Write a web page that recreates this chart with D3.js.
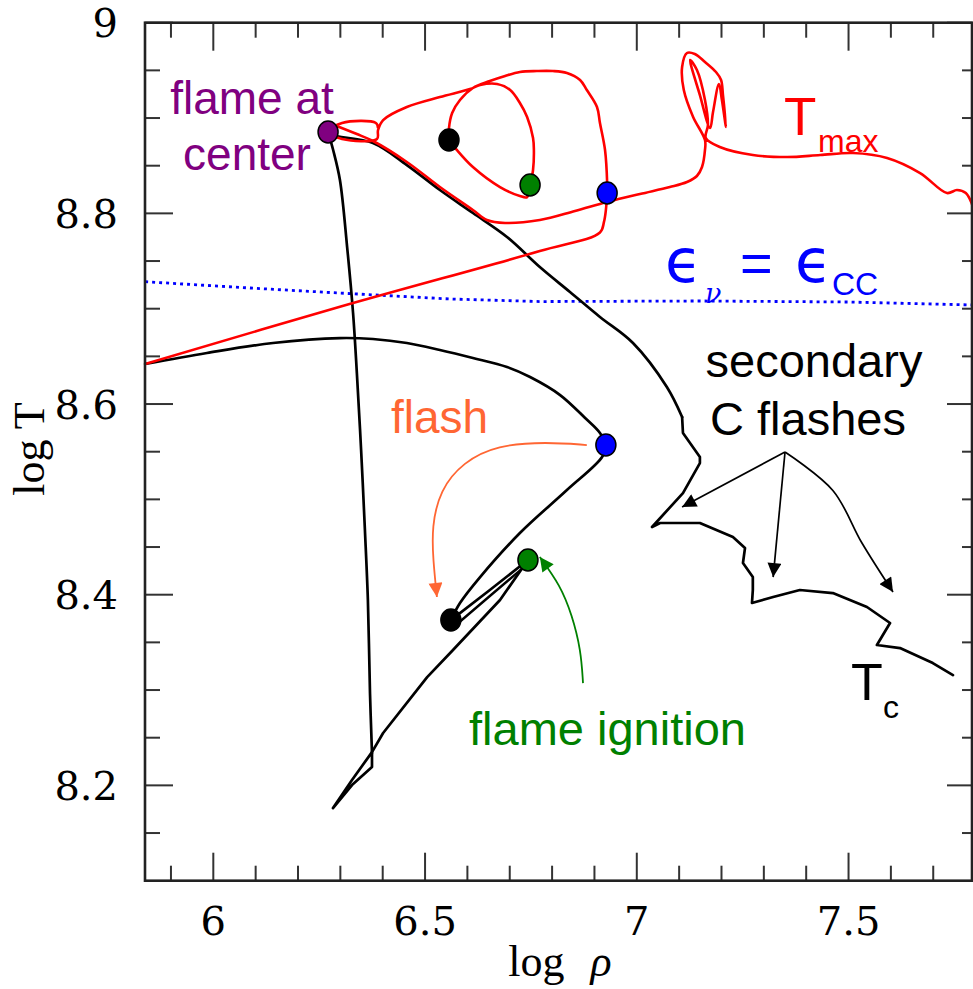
<!DOCTYPE html>
<html><head><meta charset="utf-8">
<script src="https://cdn.jsdelivr.net/npm/d3@7"></script>
<style>body{margin:0;background:#fff}</style>
</head><body>
<svg id="chart" width="973" height="989"></svg>
<script>
// ---------------- DATA (log rho, log T) ----------------
const xMajorTicks = [6, 6.5, 7, 7.5];
const xTickLabels = ["6", "6.5", "7", "7.5"];
const xMinorTicks = [5.9, 6.1, 6.2, 6.3, 6.4, 6.6, 6.7, 6.8, 6.9, 7.1, 7.2, 7.3, 7.4, 7.6, 7.7];
const yMajorTicks = [8.2, 8.4, 8.6, 8.8, 9.0];
const yTickLabels = ["8.2", "8.4", "8.6", "8.8", "9"];
const yMinorTicks = [8.15, 8.25, 8.3, 8.35, 8.45, 8.5, 8.55, 8.65, 8.7, 8.75, 8.85, 8.9, 8.95];

// epsilon_nu = epsilon_CC line
const epsLine = [[5.839,8.7283],[6.087,8.7217],[6.299,8.7164],[6.559,8.7102],[6.771,8.7075],[7.149,8.7081],[7.503,8.7070],[7.794,8.7039]];

// T_max track, part A: pre-flash rise, flash loops, to flame at center
const tmaxA = [[5.839,8.642],[6.299,8.702],[6.771,8.7605],[6.913,8.780],[6.9225,8.791],[6.927,8.8035],[6.930,8.821],
  [6.930,8.8318],[6.925,8.8665],[6.913,8.8948],[6.906,8.9116],[6.882,8.9294],[6.866,8.9399],[6.835,8.9472],[6.802,8.9493],
  [6.764,8.9493],[6.724,8.9483],[6.689,8.9441],[6.653,8.9388],[6.613,8.9315],[6.5825,8.9189],[6.564,8.9053],[6.5565,8.8895],
  [6.5565,8.8769],[6.575,8.8665],[6.613,8.8486],[6.677,8.8276],[6.724,8.8182],[6.741,8.8171],[6.748,8.8297],[6.755,8.8455],
  [6.757,8.8665],[6.755,8.8790],[6.741,8.9011],[6.724,8.9158],[6.701,8.9294],[6.670,8.9357],[6.630,8.9346],[6.606,8.9304],
  [6.535,8.9220],[6.457,8.9116],[6.401,8.8979],[6.389,8.8874],[6.3865,8.8780],[6.304,8.8780],[6.271,8.8853],[6.304,8.8948],
  [6.384,8.8948],[6.389,8.8895]];
// T_max track, part B: after flame reaches centre, secondary flashes
const tmaxB = [[6.285,8.8927],[6.339,8.8832],[6.377,8.8759],[6.457,8.8539],[6.535,8.8276],[6.613,8.8035],[6.646,8.7930],
  [6.689,8.7899],[6.771,8.7930],[6.854,8.8025],[6.930,8.8119],[7.0075,8.8203],[7.078,8.8276],[7.1185,8.8329],[7.142,8.8392],
  [7.154,8.8486],[7.161,8.8665],[7.161,8.8769],[7.133,8.9011],[7.111,8.9294],[7.107,8.9535],[7.1185,8.9682],[7.137,8.9672],
  [7.161,8.9588],[7.187,8.9483],[7.199,8.9399],[7.2035,8.9241],[7.2106,8.8906],[7.201,8.9189],[7.194,8.9357],[7.180,8.9063],
  [7.173,8.8895],[7.149,8.9241],[7.126,8.9609],[7.142,8.9504],[7.161,8.9189],[7.168,8.8927],[7.163,8.8790],[7.196,8.8696],
  [7.274,8.8612],[7.355,8.8591],[7.433,8.8612],[7.5105,8.8633],[7.591,8.8581],[7.669,8.8423],[7.7325,8.8213],[7.756,8.8245],
  [7.777,8.8213],[7.794,8.8066]];

// T_c track
const tcTrack = [[5.839,8.642],[5.985,8.6535],[6.141,8.6640],[6.299,8.6692],[6.377,8.6682],[6.457,8.6640],[6.535,8.6567],
  [6.613,8.6483],[6.6935,8.6388],[6.748,8.6283],[6.819,8.6094],[6.878,8.5853],[6.913,8.5696],[6.927,8.5570],
  [6.918,8.5444],[6.835,8.5098],[6.724,8.4647],[6.630,8.4185],[6.5825,8.3913],[6.561,8.3734],
  [6.653,8.4049],[6.743,8.4364],
  [6.677,8.3944],[6.566,8.3420],[6.505,8.3136],[6.401,8.2549],[6.3747,8.2349],[6.3275,8.2056],[6.2826,8.1762],
  [6.3275,8.2003],[6.3747,8.2192],[6.3747,8.2339],
  [6.370,8.2968],[6.365,8.3944],[6.358,8.4678],[6.349,8.5518],[6.339,8.6325],[6.330,8.6955],[6.316,8.7647],[6.299,8.8350],
  [6.283,8.8665],[6.271,8.8853],
  [6.2802,8.8822],[6.377,8.8738],[6.457,8.8507],[6.535,8.8245],[6.613,8.8004],[6.6935,8.7752],[6.771,8.7437],[6.8422,8.7175],
  [6.913,8.6913],[6.991,8.6640],[7.071,8.6178],[7.107,8.5864],[7.109,8.5696],[7.149,8.5444],[7.149,8.5381],[7.109,8.5066],
  [7.036,8.4710],[7.055,8.4752],[7.149,8.4752],[7.227,8.4605],[7.2555,8.4489],[7.2507,8.4332],[7.274,8.4185],[7.274,8.4049],
  [7.272,8.3913],[7.322,8.3976],[7.385,8.4049],[7.463,8.4017],[7.5435,8.3871],[7.598,8.3703],[7.567,8.3472],[7.6215,8.3440],
  [7.699,8.3283],[7.7466,8.3157]];
const tcReturn = [[6.573,8.3682],[6.653,8.3986],[6.7336,8.4290]];

// epoch markers
const tmaxDots = [{p:[6.271,8.8853],c:"#800080"},{p:[6.5565,8.8769],c:"#000000"},{p:[6.748,8.8297],c:"#008000"},{p:[6.930,8.8213],c:"#0000ff"}];
const tcDots = [{p:[6.561,8.3734],c:"#000000"},{p:[6.743,8.4364],c:"#008000"},{p:[6.927,8.5570],c:"#0000ff"}];

// annotation arrows
const flashArrow = [[6.882,8.5570],[6.788,8.5602],[6.670,8.5570],[6.590,8.5391],[6.535,8.5098],[6.516,8.4710],[6.519,8.4364],[6.528,8.3976]];
const ignitionArrow = [[6.873,8.3073],[6.868,8.3420],[6.847,8.3787],[6.819,8.4101],[6.771,8.4395]];
const secArrow1 = [[7.350,8.5497],[7.107,8.4920]];
const secArrow2 = [[7.350,8.5497],[7.322,8.4185]];
const secArrow3 = [[7.350,8.5497],[7.463,8.5093],[7.5317,8.4542],[7.605,8.4028]];

// ---------------- DRAW ----------------
const svg = d3.select("#chart");
const x = d3.scaleLinear().domain([5.8387, 7.7939]).range([145, 973]);
const y = d3.scaleLinear().domain([8.1, 9.0]).range([880.7, 22.7]);
const L = 145, R = 972, T = 22.7, B = 880.7;

const defs = svg.append("defs");
function marker(id, color) {
  defs.append("marker").attr("id", id).attr("viewBox", "0 0 10 10")
    .attr("refX", 10).attr("refY", 5).attr("markerWidth", 15).attr("markerHeight", 14)
    .attr("markerUnits", "userSpaceOnUse").attr("orient", "auto")
    .append("path").attr("d", "M0,0L10,5L0,10Z").attr("fill", color);
}
marker("mFlash", "#ff6633");
marker("mIgn", "#008000");
marker("mBlk", "#000000");

const sharp = d3.line().x(d => x(d[0])).y(d => y(d[1]));
const smooth = d3.line().x(d => x(d[0])).y(d => y(d[1])).curve(d3.curveCatmullRom.alpha(0.5));

// ticks
const tk = svg.append("g").attr("stroke", "#333").attr("stroke-width", 2);
xMajorTicks.forEach(v => {
  tk.append("line").attr("x1", x(v)).attr("x2", x(v)).attr("y1", B).attr("y2", B - 28);
  tk.append("line").attr("x1", x(v)).attr("x2", x(v)).attr("y1", T).attr("y2", T + 28);
});
xMinorTicks.forEach(v => {
  tk.append("line").attr("x1", x(v)).attr("x2", x(v)).attr("y1", B).attr("y2", B - 15);
  tk.append("line").attr("x1", x(v)).attr("x2", x(v)).attr("y1", T).attr("y2", T + 15);
});
yMajorTicks.forEach(v => {
  tk.append("line").attr("y1", y(v)).attr("y2", y(v)).attr("x1", L).attr("x2", L + 28);
  tk.append("line").attr("y1", y(v)).attr("y2", y(v)).attr("x1", R).attr("x2", R - 25);
});
yMinorTicks.forEach(v => {
  tk.append("line").attr("y1", y(v)).attr("y2", y(v)).attr("x1", L).attr("x2", L + 15);
  tk.append("line").attr("y1", y(v)).attr("y2", y(v)).attr("x1", R).attr("x2", R - 10);
});

// eps line
svg.append("path").attr("d", sharp(epsLine)).attr("fill", "none")
  .attr("stroke", "#0000ff").attr("stroke-width", 2.8).attr("stroke-dasharray", "3,4");

// T_c track: smooth where the track is smooth, straight segments at its cusps
const tcPieces = [[0, 19, smooth], [19, 31, sharp], [31, 41, smooth], [41, 53, smooth], [53, tcTrack.length - 1, sharp]];
const tcG = svg.append("g").attr("fill", "none").attr("stroke", "#000").attr("stroke-width", 2.7)
  .attr("stroke-linejoin", "round").attr("stroke-linecap", "round");
tcPieces.forEach(([a, b, gen]) => tcG.append("path").attr("d", gen(tcTrack.slice(a, b + 1))));
tcG.append("path").attr("d", sharp(tcReturn)).attr("stroke-width", 2.4);

svg.append("path").attr("d", smooth(tmaxA)).attr("fill", "none").attr("stroke", "#ff0000").attr("stroke-width", 2.6).attr("stroke-linejoin", "round");
svg.append("path").attr("d", smooth(tmaxB)).attr("fill", "none").attr("stroke", "#ff0000").attr("stroke-width", 2.6).attr("stroke-linejoin", "round");

// arrows
const curved = d3.line().x(d => x(d[0])).y(d => y(d[1])).curve(d3.curveBasis);
svg.append("path").attr("d", curved(flashArrow)).attr("fill", "none").attr("stroke", "#ff6633").attr("stroke-width", 1.8).attr("marker-end", "url(#mFlash)");
svg.append("path").attr("d", curved(ignitionArrow)).attr("fill", "none").attr("stroke", "#008000").attr("stroke-width", 1.8).attr("marker-end", "url(#mIgn)");
[secArrow1, secArrow2].forEach(a => svg.append("path").attr("d", sharp(a)).attr("fill", "none").attr("stroke", "#000").attr("stroke-width", 1.7).attr("marker-end", "url(#mBlk)"));
svg.append("path").attr("d", smooth(secArrow3)).attr("fill", "none").attr("stroke", "#000").attr("stroke-width", 1.7).attr("marker-end", "url(#mBlk)");

// dots
svg.append("g").selectAll("ellipse").data(tmaxDots.concat(tcDots)).join("ellipse")
  .attr("cx", d => x(d.p[0])).attr("cy", d => y(d.p[1])).attr("rx", 10).attr("ry", 11)
  .attr("fill", d => d.c).attr("stroke", "#000").attr("stroke-width", 1.5);

// frame
svg.append("rect").attr("x", L).attr("y", T).attr("width", R - L).attr("height", B - T)
  .attr("fill", "none").attr("stroke", "#222").attr("stroke-width", 2.6);

// tick labels
const serif = "'DejaVu Serif', serif";
svg.append("g").selectAll("text").data(xMajorTicks).join("text")
  .attr("x", d => x(d)).attr("y", 935).attr("text-anchor", "middle")
  .attr("font-family", serif).attr("font-size", 40).text((d, i) => xTickLabels[i]);
svg.append("g").selectAll("text").data(yMajorTicks).join("text")
  .attr("x", 118).attr("y", d => y(d) + 14.6).attr("text-anchor", "end")
  .attr("font-family", serif).attr("font-size", 40).text((d, i) => yTickLabels[i]);

// axis titles
const xt = svg.append("text").attr("x", 560).attr("y", 976).attr("text-anchor", "middle")
  .attr("font-family", "'Liberation Serif', serif").attr("font-size", 44);
xt.append("tspan").text("log");
xt.append("tspan").attr("dx", 26).attr("font-style", "italic").text("ρ");
svg.append("text").attr("transform", "translate(44,449) rotate(-90)").attr("text-anchor", "middle")
  .attr("font-family", "'Liberation Serif', serif").attr("font-size", 44).text("log T");

// annotations
const sans = "'Liberation Sans', Arial, sans-serif";
function txt(s, xx, yy, size, color, anchor) {
  return svg.append("text").attr("x", xx).attr("y", yy).attr("font-family", sans).attr("font-size", size)
    .attr("fill", color).attr("text-anchor", anchor || "start").text(s);
}
txt("flame at", 252, 114, 46, "#800080", "middle");
txt("center", 247, 170, 46, "#800080", "middle");
txt("T", 784, 135, 53, "#ff0000");
txt("max", 818, 152, 32, "#ff0000");
svg.append("text").attr("x", 665).attr("y", 282).attr("font-family", "'DejaVu Sans'").attr("font-size", 60).attr("fill", "#0000ff").text("ϵ");
svg.append("text").attr("x", 705).attr("y", 303).attr("font-family", "'DejaVu Serif'").attr("font-style", "italic").attr("font-size", 27).attr("fill", "#0000ff").text("ν");
txt("=", 740, 282, 56, "#0000ff");
svg.append("text").attr("x", 795).attr("y", 282).attr("font-family", "'DejaVu Sans'").attr("font-size", 60).attr("fill", "#0000ff").text("ϵ");
txt("CC", 832, 295, 32, "#0000ff");
txt("secondary", 814, 377, 47, "#000", "middle");
txt("C flashes", 808, 435, 47, "#000", "middle");
txt("T", 851, 700, 52, "#000");
txt("c", 883, 718, 32, "#000");
txt("flash", 391, 433, 46, "#ff6633");
txt("flame ignition", 469, 745, 47, "#008000");
</script>
</body></html>
